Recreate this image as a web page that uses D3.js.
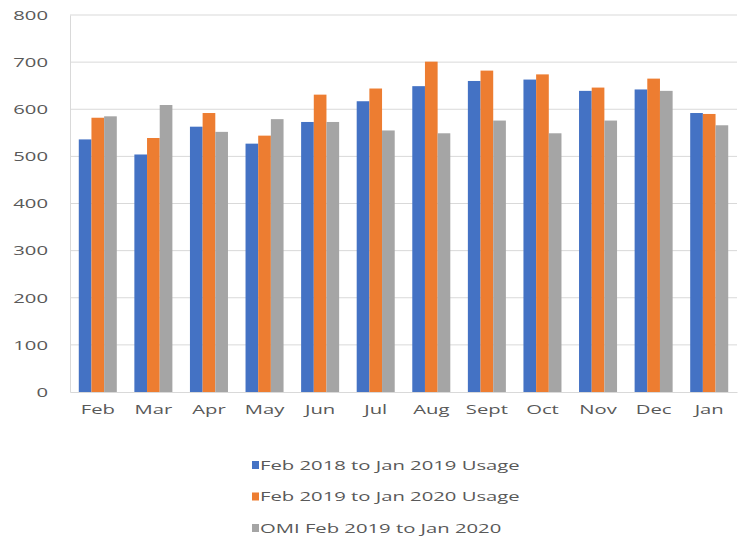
<!DOCTYPE html>
<html>
<head>
<meta charset="utf-8">
<script src="https://cdn.jsdelivr.net/npm/d3@7"></script>
<style>
  body { margin: 0; background: #fff; }
  text { font-family: "Open Sans", "Noto Sans", sans-serif; fill: #595959; }
</style>
</head>
<body>
<div id="chart"></div>
<script>
// Data
var MONTHS = ['Feb', 'Mar', 'Apr', 'May', 'Jun', 'Jul', 'Aug', 'Sept', 'Oct', 'Nov', 'Dec', 'Jan'];
var SERIES_NAMES = ['Feb 2018 to Jan 2019 Usage', 'Feb 2019 to Jan 2020 Usage', 'OMI Feb 2019 to Jan 2020'];
var USAGE_2018 = [536, 504, 563, 527, 573, 617, 649, 660, 663, 639, 642, 592];
var USAGE_2019 = [582, 539, 592, 544, 631, 644, 701, 682, 674, 646, 665, 590];
var OMI_2019 = [585, 609, 552, 579, 573, 555, 549, 576, 549, 576, 639, 566];
var Y_TICKS = [0, 100, 200, 300, 400, 500, 600, 700, 800];
var COLORS = ['#4472C4', '#ED7D31', '#A5A5A5'];

var FONT_SIZE = '13.5px';
var STRETCH = 1.5; // the text in the picture is wide, stretch it horizontally

var width = 739, height = 537;
var margin = {top: 15, right: 2, bottom: 145, left: 70};
var innerW = width - margin.left - margin.right;
var innerH = height - margin.top - margin.bottom;

var svg = d3.select('#chart').append('svg')
    .attr('width', width)
    .attr('height', height);

var g = svg.append('g')
    .attr('transform', 'translate(' + margin.left + ',' + margin.top + ')');

var x0 = d3.scaleBand().domain(MONTHS).range([0, innerW]).paddingInner(0.316).paddingOuter(0.158);
var x1 = d3.scaleBand().domain([0, 1, 2]).range([0, x0.bandwidth()]);
var y = d3.scaleLinear().domain([0, 800]).range([innerH, 0]);

// widen text glyphs
function stretch(sel) {
  sel.each(function() {
    var len = this.getComputedTextLength();
    d3.select(this)
      .attr('textLength', len * STRETCH)
      .attr('lengthAdjust', 'spacingAndGlyphs');
  });
}

// gridlines
g.selectAll('.grid')
  .data(Y_TICKS.filter(function(d) { return d > 0; }))
  .enter().append('line')
    .attr('x1', 0).attr('x2', innerW)
    .attr('y1', function(d) { return y(d); })
    .attr('y2', function(d) { return y(d); })
    .attr('stroke', '#d9d9d9')
    .attr('stroke-width', 1);

// bars
var series = [USAGE_2018, USAGE_2019, OMI_2019];
MONTHS.forEach(function(m, i) {
  var grp = g.append('g').attr('transform', 'translate(' + x0(m) + ',0)');
  series.forEach(function(s, j) {
    grp.append('rect')
      .attr('x', x1(j))
      .attr('y', y(s[i]))
      .attr('width', x1.bandwidth())
      .attr('height', innerH - y(s[i]))
      .attr('fill', COLORS[j]);
  });
});

// axes
var yAxis = g.append('g')
    .call(d3.axisLeft(y).tickValues(Y_TICKS).tickSize(0).tickPadding(22));
yAxis.select('.domain').attr('stroke', '#d9d9d9');
yAxis.selectAll('text').style('font-size', FONT_SIZE).attr('fill', '#595959').call(stretch);

var xAxis = g.append('g')
    .attr('transform', 'translate(0,' + innerH + ')')
    .call(d3.axisBottom(x0).tickSize(0).tickPadding(12));
xAxis.select('.domain').attr('stroke', '#d9d9d9');
xAxis.selectAll('text').style('font-size', FONT_SIZE).attr('fill', '#595959').call(stretch);

// legend
var legend = svg.append('g').attr('transform', 'translate(252,465)');
SERIES_NAMES.forEach(function(name, i) {
  var row = legend.append('g').attr('transform', 'translate(0,' + (i * 31.5) + ')');
  row.append('rect')
    .attr('x', 0).attr('y', -4)
    .attr('width', 7).attr('height', 8)
    .attr('fill', COLORS[i]);
  row.append('text')
    .attr('x', 8)
    .attr('y', 0)
    .attr('dy', '0.35em')
    .style('font-size', FONT_SIZE)
    .text(name)
    .call(stretch);
});
</script>
</body>
</html>
